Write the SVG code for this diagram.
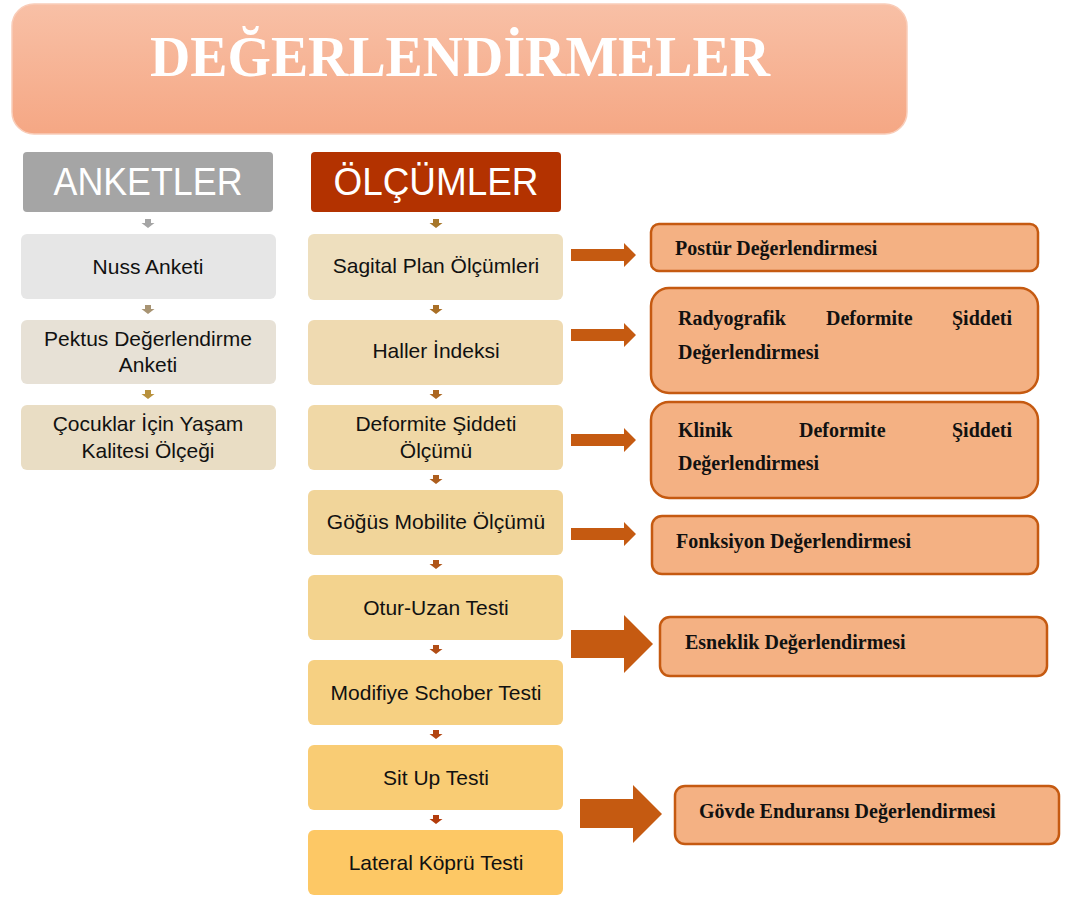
<svg xmlns="http://www.w3.org/2000/svg" width="1075" height="898" viewBox="0 0 1075 898">
<defs>
<linearGradient id="tg" x1="0" y1="0" x2="0" y2="1">
<stop offset="0" stop-color="#F8C0A6"/>
<stop offset="1" stop-color="#F5A784"/>
</linearGradient>
<path id="da" d="M-3,0 h6 v4 h3.5 l-6.5,5 l-6.5,-5 h3.5 z"/>
<path id="sa" d="M0,-6 h53 v-6 l12,12 l-12,12 v-6 h-53 z"/>
</defs>
<style>
.sans{font-family:"Liberation Sans",Arial,sans-serif;font-size:21px;fill:#111;text-anchor:middle}
.head{font-family:"Liberation Sans",Arial,sans-serif;font-size:38px;fill:#fff;text-anchor:middle}
.ser{font-family:"Liberation Serif","Times New Roman",serif;font-weight:bold;font-size:20px;fill:#111}
.rbox{fill:#F4B183;stroke:#C55A11;stroke-width:2.5}
.arr{fill:#C55A11}
</style>

<g id="title">
<rect x="12" y="4" width="895" height="130" rx="22" fill="url(#tg)" stroke="#F9CDB9" stroke-width="1.5"/>
<text x="460" y="76" font-family="'Liberation Serif','Times New Roman',serif" font-weight="bold" font-size="56" fill="#fff" text-anchor="middle" textLength="620" lengthAdjust="spacingAndGlyphs">DEĞERLENDİRMELER</text>
</g>

<g id="anketler">
<rect x="23" y="152" width="250" height="60" rx="4" fill="#A5A5A5"/>
<text class="head" x="148" y="195" textLength="189" lengthAdjust="spacingAndGlyphs">ANKETLER</text>
</g>
<g id="nuss">
<rect x="21" y="234" width="255" height="65" rx="6" fill="#E6E6E6"/>
<text class="sans" x="148" y="274">Nuss Anketi</text>
</g>
<g id="pektus">
<rect x="21" y="320" width="255" height="64" rx="6" fill="#E7E1D6"/>
<text class="sans" x="148" y="346">Pektus Değerlendirme</text>
<text class="sans" x="148" y="372">Anketi</text>
</g>
<g id="cocuklar">
<rect x="21" y="405" width="255" height="65" rx="6" fill="#E9DDC4"/>
<text class="sans" x="148" y="431">Çocuklar İçin Yaşam</text>
<text class="sans" x="148" y="458">Kalitesi Ölçeği</text>
</g>

<g id="olcumler">
<rect x="311" y="152" width="250" height="60" rx="4" fill="#B33200"/>
<text class="head" x="436" y="195" textLength="205" lengthAdjust="spacingAndGlyphs">ÖLÇÜMLER</text>
</g>
<g id="sagital">
<rect x="308" y="234" width="255" height="66" rx="6" fill="#EEDFBE"/>
<text class="sans" x="436" y="273">Sagital Plan Ölçümleri</text>
</g>
<g id="haller">
<rect x="308" y="320" width="255" height="65" rx="6" fill="#EFDAB1"/>
<text class="sans" x="436" y="358">Haller İndeksi</text>
</g>
<g id="deformite">
<rect x="308" y="405" width="255" height="65" rx="6" fill="#F0D8A6"/>
<text class="sans" x="436" y="431">Deformite Şiddeti</text>
<text class="sans" x="436" y="458">Ölçümü</text>
</g>
<g id="gogus">
<rect x="308" y="490" width="255" height="65" rx="6" fill="#F1D59A"/>
<text class="sans" x="436" y="529">Göğüs Mobilite Ölçümü</text>
</g>
<g id="otur">
<rect x="308" y="575" width="255" height="65" rx="6" fill="#F3D38E"/>
<text class="sans" x="436" y="615">Otur-Uzan Testi</text>
</g>
<g id="modifiye">
<rect x="308" y="660" width="255" height="65" rx="6" fill="#F6D082"/>
<text class="sans" x="436" y="700">Modifiye Schober Testi</text>
</g>
<g id="situp">
<rect x="308" y="745" width="255" height="65" rx="6" fill="#F9CC74"/>
<text class="sans" x="436" y="785">Sit Up Testi</text>
</g>
<g id="lateral">
<rect x="308" y="830" width="255" height="65" rx="6" fill="#FDC865"/>
<text class="sans" x="436" y="870">Lateral Köprü Testi</text>
</g>

<g id="postur">
<rect class="rbox" x="651" y="224" width="387" height="47" rx="8"/>
<text class="ser" x="675" y="255">Postür Değerlendirmesi</text>
</g>
<g id="radyografik">
<rect class="rbox" x="651" y="288" width="387" height="105" rx="18"/>
<text class="ser" x="678" y="325">Radyografik</text>
<text class="ser" x="826" y="325">Deformite</text>
<text class="ser" x="1012" y="325" text-anchor="end">Şiddeti</text>
<text class="ser" x="678" y="359">Değerlendirmesi</text>
</g>
<g id="klinik">
<rect class="rbox" x="651" y="402" width="387" height="96" rx="18"/>
<text class="ser" x="678" y="437">Klinik</text>
<text class="ser" x="799" y="437">Deformite</text>
<text class="ser" x="1012" y="437" text-anchor="end">Şiddeti</text>
<text class="ser" x="678" y="470">Değerlendirmesi</text>
</g>
<g id="fonksiyon">
<rect class="rbox" x="652" y="516" width="386" height="58" rx="10"/>
<text class="ser" x="676" y="548">Fonksiyon Değerlendirmesi</text>
</g>
<g id="esneklik">
<rect class="rbox" x="660" y="617" width="387" height="59" rx="10"/>
<text class="ser" x="685" y="649">Esneklik Değerlendirmesi</text>
</g>
<g id="govde">
<rect class="rbox" x="675" y="786" width="384" height="58" rx="10"/>
<text class="ser" x="699" y="818">Gövde Enduransı Değerlendirmesi</text>
</g>

<g id="connectors">
<use href="#da" x="148" y="219" fill="#A5A5A5"/>
<use href="#da" x="148" y="305" fill="#A89473"/>
<use href="#da" x="148" y="390" fill="#B8913D"/>
<use href="#da" x="436" y="219" fill="#A7772A"/>
<use href="#da" x="436" y="305" fill="#A96F26"/>
<use href="#da" x="436" y="390" fill="#AB6722"/>
<use href="#da" x="436" y="475" fill="#AD5E1E"/>
<use href="#da" x="436" y="560" fill="#AF561A"/>
<use href="#da" x="436" y="645" fill="#B14D16"/>
<use href="#da" x="436" y="730" fill="#B24512"/>
<use href="#da" x="436" y="815" fill="#B33C0C"/>
<use href="#sa" x="571" y="255" class="arr"/>
<use href="#sa" x="571" y="335" class="arr"/>
<use href="#sa" x="571" y="440" class="arr"/>
<use href="#sa" x="571" y="534" class="arr"/>
<path class="arr" d="M571,630 H624 V615 L653,644 L624,673 V658 H571 Z"/>
<path class="arr" d="M580,799 H633 V785 L662,814 L633,843 V828 H580 Z"/>
</g>
</svg>
